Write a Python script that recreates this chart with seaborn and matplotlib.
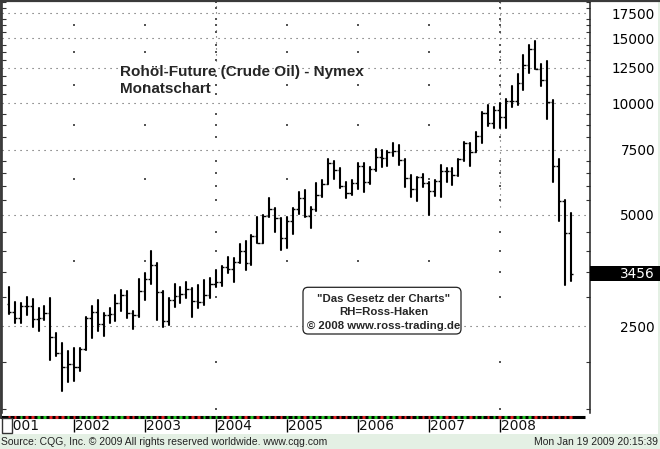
import matplotlib
matplotlib.use("Agg")
import matplotlib.pyplot as plt
from matplotlib.patches import Rectangle, FancyBboxPatch
from matplotlib.lines import Line2D
from matplotlib.ticker import FixedLocator, NullFormatter
import numpy as np
import pandas as pd
import seaborn as sns

# monthly crude oil bars, Feb 2001 .. Jan 2009 (chart units = cents)
months = pd.period_range("2001-02", "2009-01", freq="M")
opens = [2866, 2739, 2629, 2846, 2837, 2625, 2635, 2720, 2343, 2118, 1944,
         1984, 1948, 2174, 2631, 2729, 2531, 2686, 2702, 2898, 3045, 2722, 2689,
         3120, 3351, 3660, 3104, 2580, 2956, 3019, 3054, 3157, 2920, 2911, 3041,
         3252, 3305, 3616, 3576, 3738, 3988, 3705, 4380, 4212, 4964, 5176, 4913,
         4345, 4820, 5175, 5540, 4972, 5197, 5650, 6057, 6894, 6624, 5976, 5732,
         6104, 6792, 6141, 6663, 7188, 7129, 7393, 7440, 7026, 6291, 5873, 6313,
         6105, 5814, 6179, 6587, 6571, 6401, 7068, 7821, 7404, 8166, 9453, 8871,
         9598, 9175, 10184, 10158, 11346, 12735, 14000, 12408, 11546, 10064, 6781, 5443,
         4460]
highs = [3190, 2915, 2890, 3010, 2958, 2805, 2833, 2990, 2400, 2262, 2144,
         2186, 2190, 2646, 2833, 2955, 2717, 2811, 3044, 3137, 3117, 2754, 3353,
         3485, 3994, 3700, 3117, 2975, 3252, 3198, 3287, 3175, 3226, 3330, 3380,
         3560, 3640, 3844, 3820, 4170, 4245, 4415, 4940, 5000, 5567, 5230, 4920,
         4947, 5225, 5760, 5828, 5263, 6095, 6210, 7085, 6990, 6675, 6150, 6195,
         6920, 6900, 6750, 7535, 7486, 7450, 7840, 7703, 7080, 6396, 6330, 6440,
         6150, 6230, 6830, 6690, 6699, 7100, 7877, 7840, 8390, 9474, 9929, 9800,
         10009, 10305, 11180, 11993, 13509, 14367, 14727, 12775, 13000, 10209, 7100, 5490,
         5047]
lows = [2700, 2558, 2550, 2680, 2495, 2427, 2604, 2030, 2080, 1670, 1768,
        1782, 1893, 2160, 2325, 2428, 2355, 2555, 2591, 2754, 2631, 2462, 2646,
        2955, 3252, 2603, 2496, 2523, 2820, 2900, 2987, 2646, 2800, 2854, 2990,
        3200, 3210, 3476, 3303, 3706, 3552, 3665, 4192, 4192, 4940, 4505, 4022,
        4083, 4455, 5030, 4934, 4620, 5130, 5585, 6050, 6240, 5920, 5540, 5655,
        5890, 5760, 6050, 6585, 6750, 6780, 7220, 6840, 5952, 5590, 5460, 5960,
        4990, 5620, 5590, 6150, 6040, 6355, 6985, 6780, 7400, 7820, 8700, 8562,
        8611, 8610, 9780, 9900, 10905, 12060, 12370, 11134, 9051, 6130, 4825, 3240,
        3320]
closes = [2739, 2629, 2846, 2837, 2625, 2635, 2720, 2343, 2118, 1944, 1984,
          1948, 2174, 2631, 2729, 2531, 2686, 2702, 2898, 3045, 2722, 2689, 3120,
          3351, 3660, 3104, 2580, 2956, 3019, 3054, 3157, 2920, 2911, 3041, 3252,
          3305, 3616, 3576, 3738, 3988, 3705, 4380, 4212, 4964, 5176, 4913, 4345,
          4820, 5175, 5540, 4972, 5197, 5650, 6057, 6894, 6624, 5976, 5732, 6104,
          6792, 6141, 6663, 7188, 7129, 7393, 7440, 7026, 6291, 5873, 6313, 6105,
          5814, 6179, 6587, 6571, 6401, 7068, 7821, 7404, 8166, 9453, 8871, 9598,
          9175, 10184, 10158, 11346, 12735, 14000, 12408, 11546, 10064, 6781, 5443, 4460,
          3456]
last_price = 3456

major_levels = [2500, 5000, 7500, 10000, 12500, 15000, 17500]
minor_levels = [1500, 2000, 3000, 3500, 4000, 4500, 5500, 6000, 6500, 7000,
                8125, 8750, 9375, 10625, 11250, 11875, 13125, 13750, 14375,
                15625, 16250, 16875, 18125, 18750]
year_dot_levels = [16250, 13750, 11250, 8750, 6250, 3750]
year_labels = ["2001", "2002", "2003", "2004", "2005", "2006", "2007", "2008"]

sns.set_theme(style="white")
plt.rcParams["font.family"] = ["DejaVu Sans"]

W, H = 660, 449
fig = plt.figure(figsize=(W / 100, H / 100), dpi=100, facecolor="#e4f0e4")


def fx(px):
    return px / W


def fy(py):
    return 1 - py / H


# white chart panel + dark frame
fig.add_artist(Rectangle((0, fy(434)), fx(658), 434 / H, transform=fig.transFigure,
                         facecolor="white", edgecolor="none", zorder=-1))
fig.add_artist(Line2D([0, 1], [fy(0.5), fy(0.5)], transform=fig.transFigure,
                      color="#3a3a3a", lw=1.6))
fig.add_artist(Line2D([fx(0.7), fx(0.7)], [fy(0), fy(418)], transform=fig.transFigure,
                      color="#3a3a3a", lw=1.4))

x_left, x_right = (2 - 9) / 5.913, (590 - 9) / 5.913
ax = fig.add_axes([fx(2), fy(413), fx(588), 412 / H])
ax.set_facecolor("white")
ax.set_yscale("log")

idx = np.arange(len(months))
bars = pd.DataFrame({
    "i": np.repeat(idx, 2),
    "price": np.column_stack([lows, highs]).ravel(),
    "month": np.repeat(idx, 2),
})
sns.lineplot(data=bars, x="i", y="price", units="month", estimator=None,
             color="black", linewidth=1.5, sort=False, legend=False, ax=ax)
ax.hlines(opens, idx - 0.42, idx, color="black", lw=1.0)
ax.hlines(closes, idx, idx + 0.42, color="black", lw=1.0)

ax.set_xlim(x_left, x_right)
ax.set_ylim(1460, 18906)

# grid
for lv in major_levels:
    ax.axhline(lv, color="#555555", lw=0.8, dashes=(1, 4.4), zorder=0)
year_pos = [12 * k - 1 for k in range(8)]
for k, yp in enumerate(year_pos[1:], start=1):
    if year_labels[k] in ("2004", "2008"):
        top_from = 13000 if year_labels[k] == "2004" else 5250
        ax.vlines(yp, top_from, 18906, color="#555555", lw=0.8,
                  linestyles=[(0, (1, 4.4))], zorder=0)
        ax.scatter([yp] * len(minor_levels), minor_levels, s=1.2, marker="s",
                   color="#555555", linewidths=0, zorder=0)
    else:
        ax.scatter([yp] * len(year_dot_levels), year_dot_levels, s=1.2, marker="s",
                   color="#555555", linewidths=0, zorder=0)

ax.yaxis.tick_right()
ax.set_yticks(major_levels, labels=[str(v) for v in major_levels])
ax.yaxis.set_minor_locator(FixedLocator(minor_levels))
ax.yaxis.set_minor_formatter(NullFormatter())
ax.tick_params(axis="y", which="major", length=0, pad=46.8, labelsize=9.8,
               labelcolor="black")
ax.tick_params(axis="y", which="minor", direction="in", length=3, width=0.8,
               color="#333333", left=True, right=True)
for lab in ax.get_yticklabels():
    lab.set_horizontalalignment("right")
ax.set_xticks([])
ax.set_xlabel("")
ax.set_ylabel("")
for side in ("left", "right", "top"):
    ax.spines[side].set_visible(True)
    ax.spines[side].set_color("#222222")
    ax.spines[side].set_linewidth(1.1)
ax.spines["bottom"].set_visible(False)

# date strip
ax2 = fig.add_axes([0, fy(434), fx(590), 20 / H])
ax2.set_xlim((0 - 9) / 5.913, x_right)
ax2.set_ylim(0, 1)
ax2.set_facecolor("white")
ax2.axis("off")
ax2.hlines(0.85, -1.5, 97.4, color="black", lw=2.2)
for i in idx:
    if closes[i] > opens[i]:
        col = "#20c020"
    elif closes[i] < opens[i]:
        col = "#e02020"
    else:
        col = "white"
    ax2.hlines(0.85, i - 0.22, i + 0.22, color=col, lw=2.2)
for k, yp in enumerate(year_pos):
    ax2.vlines(yp, 0.1, 0.75, color="black", lw=1.0)
    ax2.text(yp + 0.2, 0.4, year_labels[k], ha="left", va="center",
             fontsize=9.9, color="#111111")
fig.add_artist(Rectangle((fx(1.5), fy(433)), fx(10.5), 15 / H, transform=fig.transFigure,
                         facecolor="white", edgecolor="#333333", lw=1.0, zorder=5))

# last price marker
fig.add_artist(Rectangle((fx(590), fy(281)), fx(70), 15 / H, transform=fig.transFigure,
                         facecolor="black", edgecolor="none", zorder=5))
fig.text(fx(655), fy(274), str(last_price), ha="right", va="center",
         fontsize=9.8, color="white", zorder=6)

# titles and notes
fig.text(fx(120), fy(76), "Rohöl-Future (Crude Oil) - Nymex", fontsize=11,
         fontweight="bold", family="Liberation Sans", va="baseline")
fig.text(fx(120), fy(93), "Monatschart", fontsize=11,
         fontweight="bold", family="Liberation Sans", va="baseline")

fig.add_artist(FancyBboxPatch((3.03, (H - 334) / 100), 1.58, 0.467,
                              boxstyle="round,pad=0,rounding_size=0.05",
                              transform=fig.dpi_scale_trans, facecolor="white",
                              edgecolor="#222222", lw=0.9, zorder=4))
for txt, base in [('"Das Gesetz der Charts"', 302), ("RH=Ross-Haken", 315),
                  ("© 2008 www.ross-trading.de", 329)]:
    fig.text(fx(384), fy(base), txt, ha="center", va="baseline", fontsize=8.2,
             fontweight="bold", family="Liberation Sans", zorder=6)

fig.text(fx(1), fy(445), "Source: CQG, Inc. © 2009 All rights reserved worldwide. www.cqg.com",
         fontsize=7.5, family="Liberation Sans", va="baseline", color="#222222")
fig.text(fx(658), fy(445), "Mon Jan 19 2009 20:15:39", ha="right",
         fontsize=7.5, family="Liberation Sans", va="baseline", color="#222222")

fig.savefig("out.png", dpi=100, facecolor=fig.get_facecolor())
